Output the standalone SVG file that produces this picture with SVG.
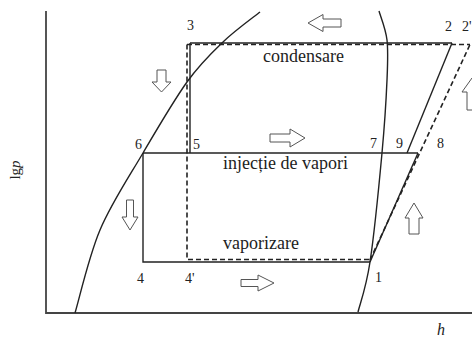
<svg xmlns="http://www.w3.org/2000/svg" width="472" height="338" viewBox="0 0 472 338">
<style>
.ax{stroke:#444;stroke-width:1.8;fill:none}
.ln{stroke:#222;stroke-width:1.4;fill:none}
.ds{stroke:#222;stroke-width:1.6;fill:none;stroke-dasharray:5 3}
.ar{fill:#fff;stroke:#555;stroke-width:1}
.t{font-family:"Liberation Serif","Times New Roman",serif;fill:#222}
.n{font-size:14px}
.lb{font-size:18px}
</style>
<rect width="472" height="338" fill="#fff"/>
<g id="axes">
<path class="ax" d="M46,11 V313 H472"/>
<text class="t" transform="translate(20,170) rotate(-90)" text-anchor="middle" font-size="15">lg<tspan font-style="italic">p</tspan></text>
<text class="t" x="437" y="335" font-size="16" font-style="italic">h</text>
</g>
<g id="curves">
<path id="liquid" class="ln" d="M75,313 C79.2,299.2 88.7,256.7 100,230 C111.3,203.3 128.5,177.7 143,153 C157.5,128.3 173.7,100.5 187,82 C200.3,63.5 210.8,53.7 223,42 C235.2,30.3 253.8,17 260,12"/>
<path id="vapor" class="ln" d="M379,11 C380.3,15.8 385.7,28.5 387,40 C388.3,51.5 387.8,61.2 387,80 C386.2,98.8 384.8,122.7 382,153 C379.2,183.3 374,235.5 370,262 C366,288.5 360,303.7 358,312"/>
</g>
<g id="connectors">
<path class="ln" d="M190,43 H452"/>
<path class="ln" d="M190,43 V153"/>
<path class="ln" d="M143,153 H418"/>
<path class="ln" d="M143,153 V262 H370"/>
<path class="ln" d="M370,262 L418,153"/>
<path class="ln" d="M407,153 L452,43"/>
<path class="ds" d="M187,44.5 H470"/>
<path class="ds" d="M187,44.5 V259.5 H370"/>
<path class="ds" d="M370,260 L470,44.5"/>
</g>
<g id="arrows">
<path class="ar" d="M308,23 L323,14.5 V19 H341 V27 H323 V31.5 Z"/>
<path class="ar" d="M157,70 H166 V82 H171 L161.5,92 L152,82 H157 Z"/>
<path class="ar" d="M270,134 H290 V129 L305,138 L290,147 V142 H270 Z"/>
<path class="ar" d="M126.5,200 H133.5 V217 H138 L130,230 L122,217 H126.5 Z"/>
<path class="ar" d="M241,279.5 H258 V275 L274,283 L258,291 V286.5 H241 Z"/>
<path class="ar" d="M414,203 L423,218 H419 V234 H409 V218 H405 Z"/>
<path class="ar" d="M472,78 L482,92 H477 V110 H467 V92 H462 Z"/>
</g>
<g id="labels">
<text class="t lb" x="263" y="62">condensare</text>
<text class="t lb" x="223" y="169">injecție de vapori</text>
<text class="t lb" x="223" y="249">vaporizare</text>
</g>
<g id="points">
<text class="t n" x="187" y="30">3</text>
<text class="t n" x="445" y="31">2</text>
<text class="t n" x="462" y="31">2'</text>
<text class="t n" x="135" y="149">6</text>
<text class="t n" x="193" y="149">5</text>
<text class="t n" x="370" y="148">7</text>
<text class="t n" x="396" y="148">9</text>
<text class="t n" x="437" y="148">8</text>
<text class="t n" x="137" y="283">4</text>
<text class="t n" x="185" y="283">4'</text>
<text class="t n" x="375" y="282">1</text>
</g>
</svg>
